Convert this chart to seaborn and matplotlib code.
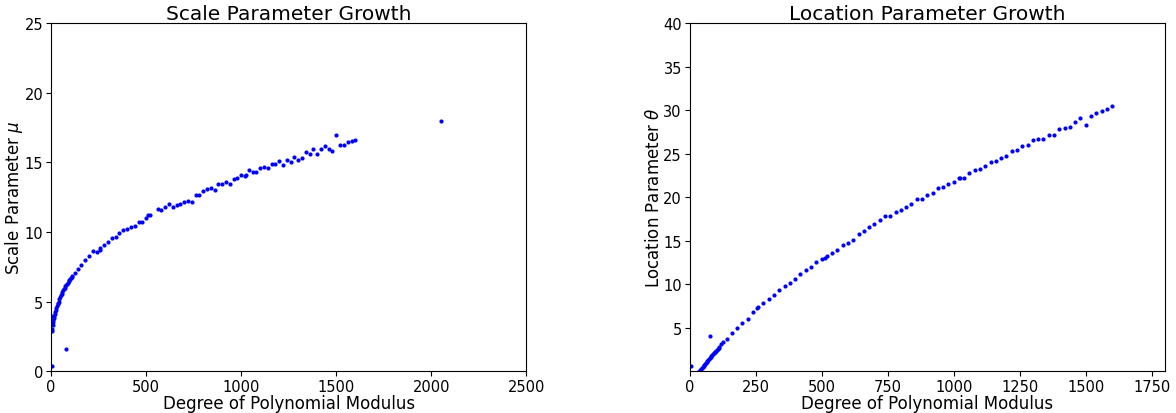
import numpy as np
import pandas as pd
import matplotlib
matplotlib.use("Agg")
import matplotlib.pyplot as plt
import seaborn as sns

# -------------------------------
# Data
# -------------------------------
# left panel: scale parameter mu vs degree
scale_deg = [3, 4, 4, 6, 8, 10, 12, 14, 16, 19, 22, 25, 28, 31, 34, 37, 40,
             44, 48, 52, 56, 60, 64, 68, 72, 76, 77, 80, 84, 88, 92, 96, 100,
             104, 108, 112,
             128, 140, 160, 180, 200, 220, 240, 256, 260, 280, 300, 320, 340,
             360, 380, 400, 420, 440, 460, 480, 500, 512, 520, 560, 580, 600,
             620, 640, 660, 680, 700, 720, 740, 760, 780, 800, 820, 840, 860,
             880, 900, 920, 940, 960, 980, 1000, 1020, 1024, 1040, 1060, 1080,
             1100, 1120, 1140, 1160, 1180, 1200, 1220, 1240, 1260, 1280, 1300,
             1320, 1340, 1360, 1380, 1400, 1420, 1440, 1460, 1480, 1500, 1520,
             1540, 1560, 1580, 1600, 2048]
scale_mu = [3.95, 0.38, 2.85, 3.05, 3.3, 3.5, 3.65, 3.8, 3.95, 4.12, 4.28,
            4.42, 4.57, 4.7, 4.8, 4.9, 5.0, 5.15, 5.3, 5.45, 5.57, 5.7, 5.8,
            5.9, 6.0, 6.1, 1.56, 6.18, 6.28, 6.36, 6.45, 6.52, 6.6, 6.66,
            6.73, 6.8,
            7.06, 7.35, 7.61, 8.00, 8.24, 8.60, 8.55, 8.72, 8.84, 9.08, 9.25,
            9.58, 9.65, 9.89, 10.11, 10.18, 10.37, 10.43, 10.71, 10.71, 11.01,
            11.19, 11.24, 11.62, 11.54, 11.77, 11.98, 11.82, 11.96, 12.03,
            12.15, 12.20, 12.16, 12.67, 12.68, 12.93, 13.07, 13.17, 13.00,
            13.42, 13.42, 13.62, 13.47, 13.83, 13.88, 14.12, 14.03, 14.07,
            14.46, 14.31, 14.31, 14.60, 14.63, 14.60, 14.91, 14.91, 15.11,
            14.84, 15.18, 14.99, 15.37, 15.15, 15.32, 15.73, 15.61, 15.95,
            15.63, 15.92, 16.16, 15.95, 15.80, 16.95, 16.26, 16.26, 16.45,
            16.52, 16.57, 17.96]

# right panel: location parameter theta vs degree
loc_deg = [4, 30, 32, 35, 38, 41, 44, 47, 50, 53, 56, 59, 62, 65, 68, 71, 74,
           77, 78, 80, 83, 86, 89, 92, 95, 98, 101, 104, 107, 110, 113,
           120, 128, 140, 160, 180, 200, 220, 240, 256, 260, 280, 300, 320,
           340, 360, 380, 400, 420, 440, 460, 480, 500, 512, 520, 540, 560,
           580, 600, 620, 640, 660, 680, 700, 720, 740, 760, 780, 800, 820,
           840, 860, 880, 900, 920, 940, 960, 980, 1000, 1020, 1024, 1040,
           1060, 1080, 1100, 1120, 1140, 1160, 1180, 1200, 1220, 1240, 1260,
           1280, 1300, 1320, 1340, 1360, 1380, 1400, 1420, 1440, 1460, 1480,
           1500, 1520, 1540, 1560, 1580, 1600]
loc_theta = [0.65, -0.25, -0.15, -0.05, 0.05, 0.17, 0.27, 0.38, 0.50, 0.61,
             0.72, 0.83, 0.95, 1.05, 1.16, 1.28, 1.38, 1.49, 4.06, 1.60, 1.71,
             1.82, 1.93, 2.04, 2.15, 2.26, 2.37, 2.48, 2.58, 2.69, 2.80,
             3.18, 3.41, 3.75, 4.41, 4.98, 5.52, 6.05, 6.82, 7.24, 7.36, 7.82,
             8.35, 8.70, 9.31, 9.73, 10.11, 10.61, 11.11, 11.65, 11.99, 12.53,
             12.84, 12.99, 13.18, 13.60, 13.87, 14.44, 14.77, 15.10, 15.75,
             16.11, 16.57, 16.93, 17.32, 17.82, 17.85, 18.28, 18.51, 18.81,
             19.16, 19.77, 19.77, 20.19, 20.46, 21.03, 21.11, 21.46, 21.69,
             22.15, 22.22, 22.15, 22.72, 23.07, 23.22, 23.60, 24.02, 24.10,
             24.48, 24.67, 25.29, 25.36, 25.90, 25.94, 26.51, 26.70, 26.67,
             27.13, 27.16, 27.85, 27.93, 28.05, 28.58, 29.08, 28.31, 29.31,
             29.69, 29.85, 30.11, 30.42]

scale_df = pd.DataFrame({"degree": scale_deg, "mu": scale_mu})
loc_df = pd.DataFrame({"degree": loc_deg, "theta": loc_theta})

# -------------------------------
# Plot
# -------------------------------
fig, axes = plt.subplots(1, 2, figsize=(11.76, 4.14), dpi=100)
fig.subplots_adjust(left=0.0434, right=0.9906, bottom=0.101, top=0.942, wspace=0.343)

TITLE_FS = 14.5
LABEL_FS = 12
TICK_FS = 10.5

for ax in axes:
    ax.tick_params(labelsize=TICK_FS, pad=2)

ax = axes[0]
sns.scatterplot(data=scale_df, x="degree", y="mu", ax=ax, color="blue",
                s=9, linewidth=0)
ax.set_xlim(0, 2500)
ax.set_ylim(0, 25)
ax.set_title("Scale Parameter Growth", fontsize=TITLE_FS, pad=3)
ax.set_xlabel("Degree of Polynomial Modulus", fontsize=LABEL_FS, labelpad=0)
ax.set_ylabel(r"Scale Parameter $\mu$", fontsize=LABEL_FS, labelpad=0)

ax = axes[1]
sns.scatterplot(data=loc_df, x="degree", y="theta", ax=ax, color="blue",
                s=9, linewidth=0)
ax.set_xlim(0, 1800)
ax.set_ylim(0, 40)
ax.set_xticks([0, 250, 500, 750, 1000, 1250, 1500, 1750])
ax.set_yticks([5, 10, 15, 20, 25, 30, 35, 40])
ax.set_title("Location Parameter Growth", fontsize=TITLE_FS, pad=3)
ax.set_xlabel("Degree of Polynomial Modulus", fontsize=LABEL_FS, labelpad=0)
ax.set_ylabel(r"Location Parameter $\theta$", fontsize=LABEL_FS, labelpad=0)

fig.savefig("out.png", dpi=100)
plt.close(fig)
